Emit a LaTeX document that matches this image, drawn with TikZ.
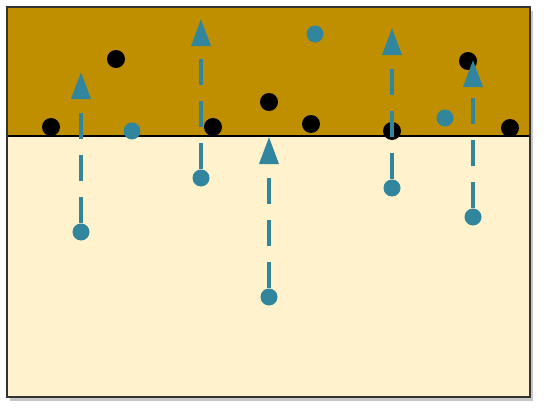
\documentclass[tikz,border=0pt]{standalone}
\usepackage{tikz}
\usetikzlibrary{arrows.meta,shadows}

\definecolor{crust}{HTML}{BF8F00}
\definecolor{mantle}{HTML}{FFF2CC}
\definecolor{tealpt}{HTML}{31859C}

\begin{document}
\begin{tikzpicture}[x=1pt,y=-1pt,
    blackdot/.style={circle,fill=black,minimum size=18pt,inner sep=0pt},
    tealdot/.style={circle,fill=tealpt,minimum size=17pt,inner sep=0pt},
    rise/.style={tealpt,line width=3.5pt,dash pattern=on 26pt off 16pt,
        -{Triangle[width=19pt,length=27pt]}}]
\useasboundingbox (0,0) rectangle (549,415);

% Two layers with a shadowed frame
\fill[mantle,drop shadow={shadow xshift=3pt,shadow yshift=-4pt,opacity=0.45}]
    (7,7) rectangle (530,397);
\fill[crust] (7,7) rectangle (530,136);
\draw[line width=1.5pt] (7,136) -- (530,136);
\draw[line width=1.5pt,black!80] (7,7) rectangle (530,397);

% Points that stay in the upper layer
\node[blackdot] (k1) at (51,127) {};
\node[blackdot] (k2) at (116,59) {};
\node[blackdot] (k3) at (213,127) {};
\node[blackdot] (k4) at (269,102) {};
\node[blackdot] (k5) at (311,124) {};
\node[blackdot] (k6) at (392,131) {};
\node[blackdot] (k7) at (468,61) {};
\node[blackdot] (k8) at (510,128) {};

\node[tealdot] (u1) at (132,131) {};
\node[tealdot] (u2) at (315,34) {};
\node[tealdot] (u3) at (445,118) {};

% Points in the lower layer and where they move up to
\node[tealdot] (s1) at (81,232) {};
\node[tealdot] (s2) at (201,178) {};
\node[tealdot] (s3) at (269,297) {};
\node[tealdot] (s4) at (392,188) {};
\node[tealdot] (s5) at (473,217) {};

\coordinate (e1) at (81,72);
\coordinate (e2) at (201,19);
\coordinate (e3) at (269,137);
\coordinate (e4) at (392,28);
\coordinate (e5) at (473,60);

\foreach \i in {1,...,5}
    \draw[rise] (s\i) -- (e\i);

\end{tikzpicture}
\end{document}
